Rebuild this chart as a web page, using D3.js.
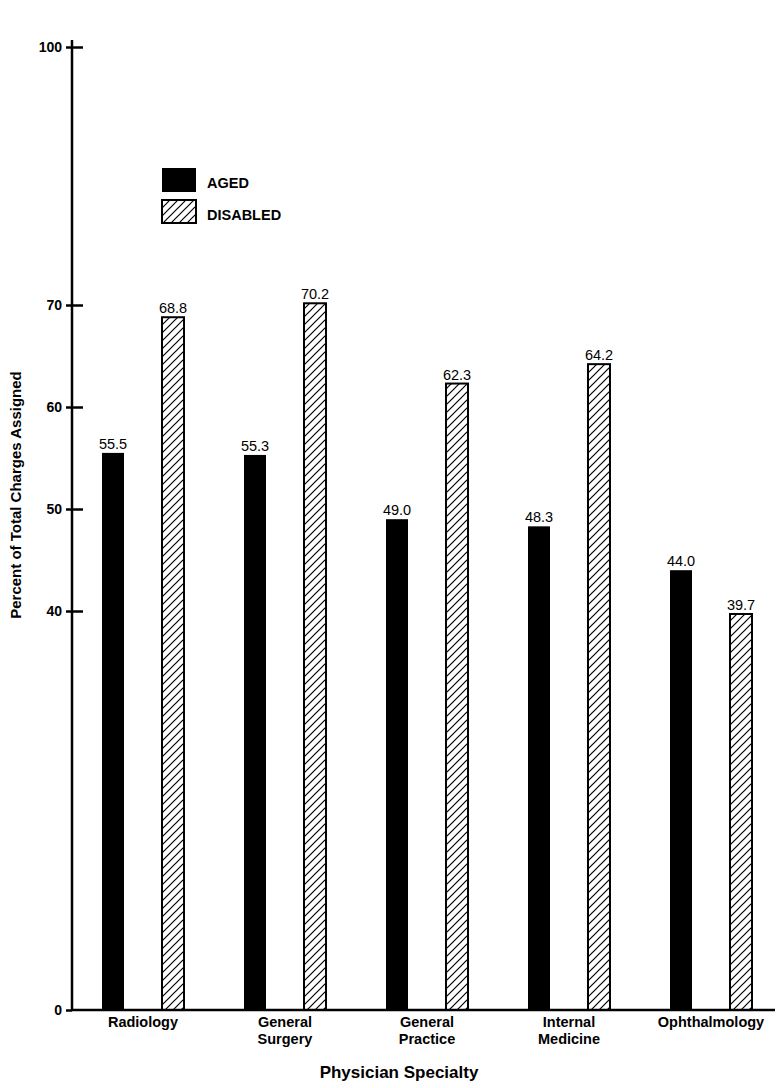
<!DOCTYPE html>
<html>
<head>
<meta charset="utf-8">
<script src="https://cdn.jsdelivr.net/npm/d3@7"></script>
<style>
  body { margin: 0; background: #fff; }
  svg { font-family: "Liberation Sans", Arial, Helvetica, sans-serif; }
</style>
</head>
<body>
<svg width="779" height="1088"></svg>
<script>
// data
var categories = [["Radiology"], ["General", "Surgery"], ["General", "Practice"], ["Internal", "Medicine"], ["Ophthalmology"]];
var series = ["AGED", "DISABLED"];
var aged = [55.5, 55.3, 49.0, 48.3, 44.0];
var disabled = [68.8, 70.2, 62.3, 64.2, 39.7];
var y_ticks = [0, 40, 50, 60, 70, 100];

var svg = d3.select("svg");

var left = 72,
    right = 782,
    base_y = 1010;

// the printed axis is not evenly spaced, so the scale goes through the tick marks
var y = d3.scaleLinear()
    .domain([0, 40, 50, 60, 70, 100])
    .range([base_y, 611, 509, 407, 305, 47]);

var cat_names = categories.map(function(d) { return d.join(" "); });

var x0 = d3.scaleBand()
    .domain(cat_names)
    .range([left, right]);

var x1 = d3.scaleBand()
    .domain(series)
    .range([-41, 41])
    .paddingInner(0.6333);

// hatch pattern for disabled
var defs = svg.append("defs");
var pat = defs.append("pattern")
    .attr("id", "hatch")
    .attr("patternUnits", "userSpaceOnUse")
    .attr("width", 8)
    .attr("height", 8);
pat.append("rect").attr("width", 8).attr("height", 8).attr("fill", "#fff");
pat.append("path")
    .attr("d", "M -2 2 L 2 -2 M 0 8 L 8 0 M 6 10 L 10 6")
    .attr("stroke", "#000")
    .attr("stroke-width", 1.2);

var rows = cat_names.map(function(c, i) {
    return { cat: c, lines: categories[i], values: [aged[i], disabled[i]] };
});

var groups = svg.append("g")
    .selectAll("g")
    .data(rows)
    .enter().append("g")
    .attr("transform", function(d) { return "translate(" + (x0(d.cat) + x0.bandwidth() / 2) + ",0)"; });

groups.selectAll("rect")
    .data(function(d) { return d.values.map(function(v, j) { return { s: series[j], v: v }; }); })
    .enter().append("rect")
    .attr("x", function(d) { return x1(d.s); })
    .attr("width", x1.bandwidth())
    .attr("y", function(d) { return y(d.v); })
    .attr("height", function(d) { return base_y - y(d.v); })
    .attr("fill", function(d) { return d.s === "AGED" ? "#000" : "url(#hatch)"; })
    .attr("stroke", "#000")
    .attr("stroke-width", function(d) { return d.s === "AGED" ? 0 : 2; });

groups.selectAll("text.val")
    .data(function(d) { return d.values.map(function(v, j) { return { s: series[j], v: v }; }); })
    .enter().append("text")
    .attr("class", "val")
    .attr("x", function(d) { return x1(d.s) + x1.bandwidth() / 2; })
    .attr("y", function(d) { return y(d.v) - 4; })
    .attr("text-anchor", "middle")
    .attr("font-size", 14.5)
    .text(function(d) { return d.v.toFixed(1); });

// category labels
groups.each(function(d) {
    var t = d3.select(this).append("text")
        .attr("text-anchor", "middle")
        .attr("font-size", 14.5)
        .attr("font-weight", "bold");
    d.lines.forEach(function(l, k) {
        t.append("tspan").attr("x", 0).attr("y", 1027 + k * 17).text(l);
    });
});

// y axis
var yAxis = d3.axisLeft(y)
    .tickValues(y_ticks)
    .tickSize(6)
    .tickPadding(4)
    .tickFormat(d3.format("d"));

var ax = svg.append("g")
    .attr("transform", "translate(" + left + ",0)")
    .call(yAxis);
ax.select(".domain").remove();
ax.selectAll(".tick line").attr("stroke-width", 2.5);
ax.selectAll(".tick")
    .filter(function(d) { return d !== 0; })
    .append("line")
    .attr("x2", 11)
    .attr("stroke", "#000")
    .attr("stroke-width", 2.5);
ax.selectAll(".tick text")
    .attr("font-size", 14)
    .attr("font-weight", "bold")
    .attr("font-family", "Liberation Sans, Arial, sans-serif")
    .attr("fill", "#000");

svg.append("line")
    .attr("x1", left).attr("x2", left)
    .attr("y1", 40).attr("y2", base_y + 1)
    .attr("stroke", "#000").attr("stroke-width", 2.5);
svg.append("line")
    .attr("x1", left).attr("x2", 775)
    .attr("y1", base_y).attr("y2", base_y)
    .attr("stroke", "#000").attr("stroke-width", 2.5);

// axis titles
svg.append("text")
    .attr("transform", "translate(21,495) rotate(-90)")
    .attr("text-anchor", "middle")
    .attr("font-size", 15)
    .attr("font-weight", "bold")
    .text("Percent of Total Charges Assigned");

svg.append("text")
    .attr("x", 399)
    .attr("y", 1078)
    .attr("text-anchor", "middle")
    .attr("font-size", 17)
    .attr("font-weight", "bold")
    .text("Physician Specialty");

// legend
var legend = svg.append("g")
    .selectAll("g")
    .data(series)
    .enter().append("g")
    .attr("transform", function(d, i) { return "translate(162," + (168 + i * 32) + ")"; });

legend.append("rect")
    .attr("width", 34)
    .attr("height", function(d, i) { return i === 0 ? 24 : 23; })
    .attr("fill", function(d) { return d === "AGED" ? "#000" : "url(#hatch)"; })
    .attr("stroke", "#000")
    .attr("stroke-width", function(d) { return d === "AGED" ? 0 : 2; });

legend.append("text")
    .attr("x", 45)
    .attr("y", 20)
    .attr("font-size", 14.5)
    .attr("font-weight", "bold")
    .text(function(d) { return d; });
</script>
</body>
</html>
